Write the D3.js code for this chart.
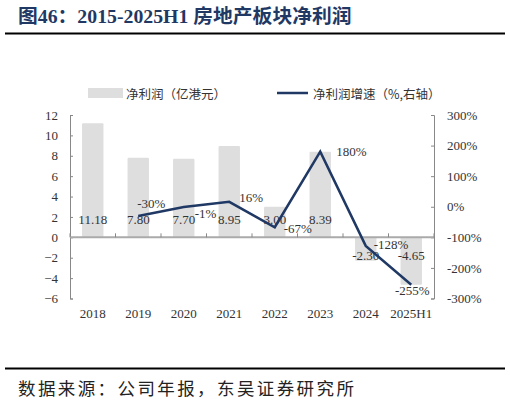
<!DOCTYPE html>
<html><head><meta charset="utf-8">
<script src="https://cdn.jsdelivr.net/npm/d3@7"></script>
<style>
html,body{margin:0;padding:0;background:#fff;}
svg{display:block;}
</style></head>
<body>
<svg id="chart" width="510" height="402"></svg>
<script>
const categories = ["2018","2019","2020","2021","2022","2023","2024","2025H1"];
const netProfit = [11.18, 7.80, 7.70, 8.95, 3.00, 8.39, -2.30, -4.65];
const growth = [null, -30, -1, 16, -67, 180, -128, -255];
const growthLabels = ["", "-30%", "-1%", "16%", "-67%", "180%", "-128%", "-255%"];
const leftTicks = [12,10,8,6,4,2,0,-2,-4,-6];
const rightTicks = [300,200,100,0,-100,-200,-300];
const titleText = "图46：2015-2025H1 房地产板块净利润";
const legendBar = "净利润（亿港元）";
const legendLine = "净利润增速（%,右轴）";
const sourceText = "数据来源：公司年报，东吴证券研究所";

const svg = d3.select("#chart");
const serif = "'Liberation Serif','Times New Roman','Noto Sans CJK SC',serif";
const cjk = "'Noto Sans CJK SC','Liberation Serif',sans-serif";
const textColor = "#333";
const lineColor = "#1f3864";

// title
svg.append("text").attr("x",18).attr("y",16).attr("dominant-baseline","central")
  .attr("font-family",serif).attr("font-weight","bold").attr("font-size",19.8)
  .attr("fill","#1f3864").text(titleText);
svg.append("line").attr("x1",5).attr("x2",505).attr("y1",33.5).attr("y2",33.5)
  .attr("stroke","#000").attr("stroke-width",2);

// scales
const x = d3.scaleBand().domain(categories).range([70,434]).paddingInner(0.53).paddingOuter(0.265);
const yL = d3.scaleLinear().domain([-6,12]).range([298.5,115]);
const yR = d3.scaleLinear().domain([-300,300]).range([298.5,115]);
const cx = c => x(c) + x.bandwidth()/2;

// bars
svg.append("g").selectAll("rect").data(netProfit).join("rect")
  .attr("x",(d,i)=>x(categories[i]))
  .attr("width",x.bandwidth())
  .attr("y",d=>Math.min(yL(d),yL(0)))
  .attr("height",d=>Math.abs(yL(d)-yL(0)))
  .attr("rx",1)
  .attr("fill","#dedede");

// left axis
const gL = svg.append("g").attr("transform","translate(70,0)")
  .call(d3.axisLeft(yL).tickValues(leftTicks).tickSize(-3).tickPadding(12).tickFormat(d3.format("d")));
gL.select(".domain").attr("stroke","#888");
gL.selectAll(".tick line").attr("stroke","#888");
gL.selectAll("text").attr("font-family",serif).attr("font-size",13).attr("fill",textColor);

// right axis
const gR = svg.append("g").attr("transform","translate(434,0)")
  .call(d3.axisRight(yR).tickValues(rightTicks).tickSize(-3).tickPadding(13).tickFormat(d=>d+"%"));
gR.select(".domain").attr("stroke","#888");
gR.selectAll(".tick line").attr("stroke","#888");
gR.selectAll("text").attr("font-family",serif).attr("font-size",13).attr("fill",textColor);

// zero axis
svg.append("line").attr("x1",70).attr("x2",434).attr("y1",yL(0)).attr("y2",yL(0))
  .attr("stroke","#aaa").attr("stroke-width",2);
const bounds = d3.range(categories.length+1).map(i=> i<categories.length ? x(categories[i]) - x.step()*x.paddingInner()/2 : 434);
svg.append("g").selectAll("line").data(bounds).join("line")
  .attr("x1",d=>d).attr("x2",d=>d).attr("y1",yL(0)).attr("y2",yL(0)-4)
  .attr("stroke","#888").attr("stroke-width",1);

// category labels
svg.append("g").selectAll("text").data(categories).join("text")
  .attr("x",d=>cx(d)).attr("y",313).attr("text-anchor","middle").attr("dominant-baseline","central")
  .attr("font-family",serif).attr("font-size",13).attr("fill",textColor).text(d=>d);

// bar labels
svg.append("g").selectAll("text").data(netProfit).join("text")
  .attr("x",(d,i)=>cx(categories[i]))
  .attr("y",d=> d>=0 ? yL(0)-18 : yL(0)+18)
  .attr("text-anchor","middle").attr("dominant-baseline","central")
  .attr("font-family",serif).attr("font-size",13).attr("fill",textColor)
  .text(d=>d.toFixed(2));

// line
const pts = growth.map((g,i)=>({c:categories[i],g:g,l:growthLabels[i]})).filter(d=>d.g!==null);
svg.append("path").datum(pts)
  .attr("d",d3.line().x(d=>cx(d.c)).y(d=>yR(d.g)))
  .attr("fill","none").attr("stroke",lineColor).attr("stroke-width",2.5).attr("stroke-linejoin","miter");

// line labels placement
const place = {
  "2019":{dx:-1,dy:-12,a:"start"},
  "2020":{dx:11,dy:6,a:"start"},
  "2021":{dx:10,dy:-4,a:"start"},
  "2022":{dx:9,dy:1,a:"start"},
  "2023":{dx:16,dy:0,a:"start"},
  "2024":{dx:8,dy:-1,a:"start"},
  "2025H1":{dx:1,dy:6,a:"middle"}
};
svg.append("g").selectAll("text").data(pts).join("text")
  .attr("x",d=>cx(d.c)+place[d.c].dx)
  .attr("y",d=>yR(d.g)+place[d.c].dy)
  .attr("text-anchor",d=>place[d.c].a).attr("dominant-baseline","central")
  .attr("font-family",serif).attr("font-size",13).attr("fill",textColor)
  .text(d=>d.l);

// legend
svg.append("rect").attr("x",88).attr("y",88).attr("width",35).attr("height",10).attr("fill","#dedede");
svg.append("text").attr("x",126).attr("y",93).attr("dominant-baseline","central")
  .attr("font-family",cjk).attr("font-size",12.5).attr("fill",textColor).text(legendBar);
svg.append("line").attr("x1",277).attr("x2",308).attr("y1",93).attr("y2",93)
  .attr("stroke",lineColor).attr("stroke-width",2.5);
svg.append("text").attr("x",313).attr("y",93).attr("dominant-baseline","central")
  .attr("font-family",cjk).attr("font-size",12.5).attr("fill",textColor).text(legendLine);

// footer
svg.append("line").attr("x1",5).attr("x2",505).attr("y1",368.5).attr("y2",368.5)
  .attr("stroke","#000").attr("stroke-width",2);
svg.append("text").attr("x",18).attr("y",387).attr("dominant-baseline","central")
  .attr("font-family",cjk).attr("font-size",17.5).attr("letter-spacing",2.4).attr("fill","#222").text(sourceText);
</script>
</body></html>
